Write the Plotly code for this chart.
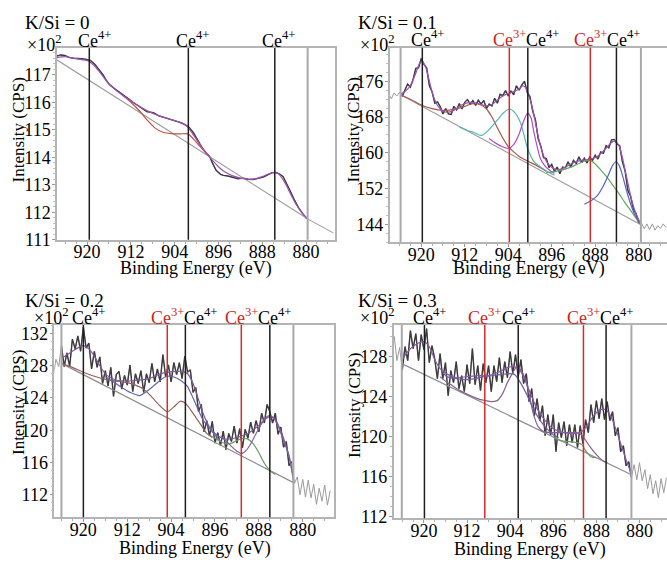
import plotly.graph_objects as go

W, H = 667, 565
FONT = "Liberation Serif"

# ---------------- data ----------------
# shared binding-energy grid (eV) of the noisy spectra (panels 2-4)
energy_grid = [926.0, 925.5, 925.0, 924.5, 924.0, 923.5, 923.0, 922.5, 922.0, 921.5,
               921.0, 920.5, 920.0, 919.5, 919.0, 918.5, 918.0, 917.5, 917.0, 916.5,
               916.0, 915.5, 915.0, 914.5, 914.0, 913.5, 913.0, 912.5, 912.0, 911.5,
               911.0, 910.5, 910.0, 909.5, 909.0, 908.5, 908.0, 907.5, 907.0, 906.5,
               906.0, 905.5, 905.0, 904.5, 904.0, 903.5, 903.0, 902.5, 902.0, 901.5,
               901.0, 900.5, 900.0, 899.5, 899.0, 898.5, 898.0, 897.5, 897.0, 896.5,
               896.0, 895.5, 895.0, 894.5, 894.0, 893.5, 893.0, 892.5, 892.0, 891.5,
               891.0, 890.5, 890.0, 889.5, 889.0, 888.5, 888.0, 887.5, 887.0, 886.5,
               886.0, 885.5, 885.0, 884.5, 884.0, 883.5, 883.0, 882.5, 882.0, 881.5,
               881.0, 880.5, 880.0, 879.5, 879.0, 878.5, 878.0, 877.5, 877.0, 876.5,
               876.0, 875.5, 875.0]

# ----- panel 1 : K/Si = 0 -----
p1_energy = [925.6, 924.8, 924.1, 923.3, 922.5, 921.7, 920.9, 920.1, 919.4, 918.6,
             917.8, 917.1, 916.5, 915.9, 915.0, 914.0, 912.8, 911.6, 910.4, 909.1,
             907.9, 906.8, 906.1, 905.0, 904.3, 903.2, 902.4, 901.5, 900.6, 899.8,
             899.0, 898.2, 897.6, 897.0, 896.4, 895.6, 895.1, 894.3, 893.3, 892.4,
             891.5, 890.6, 889.6, 888.8, 887.8, 887.0, 886.2, 885.5, 884.9, 884.2,
             883.5, 882.9, 882.2, 881.4, 880.6, 879.9, 879.0, 878.0, 877.0, 876.0, 875.0]
p1_counts = [117.68, 117.72, 117.70, 117.63, 117.60, 117.60, 117.58, 117.56, 117.52, 117.38,
             117.18, 117.00, 116.80, 116.64, 116.50, 116.34, 116.18, 116.00, 115.84, 115.66,
             115.62, 115.50, 115.46, 115.40, 115.34, 115.28, 115.21, 115.12, 114.90, 114.60,
             114.35, 114.15, 114.02, 113.75, 113.52, 113.38, 113.34, 113.32, 113.27, 113.22,
             113.24, 113.20, 113.19, 113.22, 113.28, 113.36, 113.44, 113.45, 113.40, 113.30,
             113.05, 112.78, 112.48, 112.18, 111.95, 111.77, 111.68, 111.58, 111.45, 111.35, 111.25]
p1_env_e = [925.6, 924.0, 922.5, 921.0, 919.8, 918.8, 917.8, 916.8, 915.8, 914.5, 913.0, 911.5,
            910.0, 908.5, 907.0, 905.5, 904.0, 902.7, 901.7, 900.8, 899.8, 898.8, 897.8, 896.8,
            895.8, 894.8, 893.5, 892.0, 890.5, 889.2, 888.0, 887.0, 886.0, 885.2, 884.4, 883.6,
            882.8, 881.8, 880.7, 879.7]
p1_env_i = [117.62, 117.66, 117.60, 117.55, 117.50, 117.35, 117.12, 116.86, 116.62, 116.40, 116.18, 115.98,
            115.80, 115.64, 115.52, 115.42, 115.33, 115.25, 115.12, 114.88, 114.58, 114.30, 114.05, 113.82,
            113.62, 113.46, 113.33, 113.24, 113.20, 113.22, 113.30, 113.38, 113.44, 113.42, 113.25, 112.98,
            112.66, 112.28, 111.97, 111.77]
p1_red_e = [913.5, 912.0, 910.5, 909.0, 907.5, 906.0, 904.5, 903.0, 901.6, 900.5, 899.5, 898.5, 897.6]
p1_red_i = [116.25, 116.00, 115.70, 115.35, 115.05, 114.90, 114.86, 114.85, 114.85, 114.65, 114.42, 114.20, 114.02]
p1_base_e = [925.6, 879.7]
p1_base_i = [117.55, 111.76]
p1_ce4 = [919.6, 901.5, 885.7]
p1_ce3 = []
p1_bounds = [879.7]
p1_window = [926.0, 879.7]

# ----- panel 2 : K/Si = 0.1 -----
p2_counts = [173.2, 172.1, 173.4, 172.7, 173.5, 172.6, 174.2, 175.4, 174.7, 176.4,
             178.9, 179.0, 181.1, 179.8, 179.0, 175.0, 173.6, 171.1, 171.4, 170.3,
             168.7, 169.9, 168.7, 168.6, 170.4, 169.6, 171.0, 169.8, 171.3, 171.9,
             170.9, 171.7, 170.6, 171.8, 170.9, 171.7, 169.9, 170.9, 170.5, 172.2,
             171.1, 173.1, 172.8, 173.9, 172.7, 173.8, 173.0, 175.0, 174.0, 175.2,
             176.0, 173.5, 172.6, 169.3, 167.4, 163.2, 161.5, 158.9, 158.7, 156.7,
             157.4, 155.8, 156.8, 155.3, 156.8, 156.6, 158.0, 156.8, 158.3, 157.6,
             159.1, 157.8, 158.8, 157.7, 159.1, 158.3, 159.5, 158.6, 160.2, 159.9,
             161.6, 161.1, 162.9, 163.0, 162.0, 161.6, 158.0, 155.9, 151.6, 150.3,
             147.5, 146.4, 144.3, 144.3, 143.0, 144.1, 142.8, 144.1, 142.7, 143.7,
             143.1, 144.1, 143.3]
p2_env_e = [923.8, 923.0, 922.0, 921.0, 920.3, 919.8, 919.2, 918.5, 917.8, 917.0, 916.0, 915.0,
            914.0, 913.0, 912.0, 911.0, 910.0, 909.0, 908.0, 907.0, 906.0, 905.0, 904.0, 903.0,
            902.0, 901.3, 900.8, 900.2, 899.5, 898.8, 898.0, 897.3, 896.5, 895.5, 894.5, 893.5,
            892.5, 891.0, 889.5, 888.5, 887.5, 886.5, 885.5, 884.8, 884.3, 883.6, 883.0, 882.3,
            881.5, 880.7, 879.6]
p2_env_i = [173.1, 173.7, 175.0, 177.8, 180.0, 180.4, 179.2, 176.0, 172.8, 170.6, 169.3, 169.1,
            169.5, 170.4, 171.0, 171.3, 171.2, 170.8, 170.5, 170.8, 171.8, 172.7, 173.3, 173.7,
            174.3, 175.0, 174.6, 172.8, 169.8, 165.5, 161.2, 158.8, 157.3, 156.4, 156.3, 156.8,
            157.5, 158.2, 158.5, 158.7, 159.3, 160.4, 161.7, 162.5, 162.6, 161.5, 158.9, 155.0,
            150.5, 147.0, 144.0]
p2_brown_e = [923.8, 922.0, 920.0, 918.0, 916.0, 914.0, 912.0, 910.5, 909.0, 908.0, 907.0,
              906.0, 905.0, 904.0, 903.0, 902.0, 901.0, 900.0, 899.0, 898.0, 897.0]
p2_brown_i = [173.0, 172.0, 170.7, 169.9, 169.5, 169.7, 170.4, 171.0, 170.7, 169.8, 168.0,
              165.6, 163.3, 161.4, 160.2, 159.2, 158.5, 157.9, 157.3, 156.6, 155.9]
p2_cyan_e = [913.0, 911.5, 910.4, 908.9, 907.5, 906.1, 904.9, 903.8, 902.8, 901.8, 901.1,
             900.5, 899.3, 898.0, 896.9, 895.5]
p2_cyan_i = [165.8, 165.0, 164.6, 163.9, 165.2, 167.2, 168.9, 169.8, 169.0, 166.9, 164.0,
             161.2, 158.1, 156.8, 155.9, 155.0]
p2_mag_e = [907.5, 906.7, 905.3, 903.9, 902.9, 902.0, 901.2, 900.4, 899.8, 899.3, 898.7,
            898.1, 897.4, 896.5, 895.5]
p2_mag_i = [163.2, 162.5, 161.5, 161.0, 162.0, 164.2, 167.0, 168.9, 167.8, 164.7, 161.5,
            158.8, 157.3, 156.2, 155.4]
p2_green_e = [897.0, 895.5, 894.0, 892.5, 891.0, 889.8, 888.9, 888.0, 887.0, 885.8, 884.5,
              883.6, 882.5, 881.3, 880.3, 879.6]
p2_green_i = [155.6, 155.8, 156.2, 156.8, 157.6, 158.2, 158.3, 157.5, 156.2, 154.5, 152.3,
              150.8, 148.8, 146.8, 145.0, 143.9]
p2_blue_e = [890.0, 889.0, 888.3, 887.5, 886.6, 885.6, 884.8, 884.2, 883.6, 883.0, 882.3,
             881.5, 880.7, 879.6]
p2_blue_i = [148.5, 149.1, 149.7, 150.6, 152.4, 155.0, 157.2, 158.0, 157.2, 155.0, 151.8,
             148.6, 146.1, 144.0]
p2_base_e = [923.8, 879.6]
p2_base_i = [173.0, 143.9]
p2_ce4 = [919.8, 900.4, 884.1]
p2_ce3 = [903.8, 888.9]
p2_bounds = [923.8, 879.6]
p2_window = [923.8, 879.6]

# ----- panel 3 : K/Si = 0.2 -----
p3_counts = [129.0, 126.7, 128.8, 127.9, 130.5, 127.9, 129.6, 127.9, 131.3, 130.1,
             131.7, 129.8, 132.8, 130.2, 130.8, 127.6, 129.8, 127.8, 129.1, 125.8,
             127.4, 125.5, 127.8, 124.2, 126.9, 127.3, 125.1, 126.8, 125.6, 128.1,
             124.8, 127.0, 125.8, 127.4, 124.7, 127.0, 125.9, 128.3, 126.0, 127.6,
             126.0, 129.4, 126.6, 128.1, 126.0, 128.4, 126.9, 128.4, 126.4, 129.2,
             127.2, 127.5, 124.7, 125.3, 122.3, 123.2, 119.8, 121.2, 119.3, 121.1,
             118.4, 119.7, 118.1, 119.9, 117.6, 119.6, 118.6, 120.5, 118.4, 120.2,
             117.8, 120.1, 119.0, 121.0, 119.6, 121.2, 119.8, 122.1, 120.9, 123.2,
             122.3, 120.9, 122.1, 119.5, 120.4, 117.9, 118.6, 115.6, 116.1, 113.4,
             114.2, 112.0, 113.9, 111.7, 113.8, 111.6, 113.3, 110.8, 112.8, 111.2,
             113.2, 110.7, 112.5]
p3_env_e = [924.0, 922.0, 920.5, 920.0, 919.0, 918.0, 917.0, 916.0, 915.0, 914.0, 912.0, 910.0,
            908.0, 906.0, 904.5, 903.0, 902.0, 901.0, 900.0, 899.0, 898.0, 897.0, 896.0, 895.0,
            894.0, 892.0, 890.0, 888.0, 887.0, 886.0, 885.0, 884.0, 883.0, 882.5, 882.0, 881.7]
p3_env_i = [128.9, 129.8, 130.4, 130.5, 130.1, 129.2, 128.0, 127.0, 126.5, 126.2, 126.1, 126.2,
            126.4, 127.0, 127.2, 127.3, 127.3, 127.0, 125.8, 123.8, 121.8, 120.4, 119.6, 119.1,
            118.9, 119.1, 119.6, 120.6, 121.3, 121.7, 121.3, 119.9, 118.0, 116.8, 115.0, 113.6]
p3_brown_e = [924.0, 922.0, 920.0, 918.0, 916.0, 914.0, 912.0, 910.5, 909.0, 907.5, 906.0,
              904.7, 903.5, 902.3, 901.5, 900.5, 899.5, 898.5, 897.5, 896.5]
p3_brown_i = [128.3, 127.8, 127.2, 126.7, 126.3, 126.1, 125.9, 125.6, 125.1, 124.1, 123.0,
              122.3, 122.9, 123.6, 123.4, 122.6, 121.6, 120.6, 119.6, 119.1]
p3_blue_e = [916.0, 914.5, 913.0, 911.5, 909.7, 908.5, 907.2, 905.8, 904.8, 903.5, 902.3,
             901.1, 900.2, 899.3, 898.1, 897.0, 896.0, 895.0]
p3_blue_i = [126.6, 126.0, 125.3, 124.7, 124.3, 124.8, 125.5, 126.3, 126.7, 126.6, 126.2,
             125.5, 124.3, 122.9, 121.2, 120.2, 119.4, 118.6]
p3_green_e = [897.0, 895.5, 894.0, 893.0, 891.8, 890.8, 890.0, 889.0, 888.0, 887.0, 886.0, 885.0]
p3_green_i = [119.4, 118.8, 118.3, 118.4, 118.8, 119.0, 118.9, 118.3, 117.2, 115.9, 115.0, 114.5]
p3_purple_e = [895.0, 894.0, 893.0, 892.0, 891.2, 890.3, 889.5, 888.5, 887.5, 886.7, 886.0,
               885.3, 884.5, 883.5, 882.5, 881.7]
p3_purple_i = [119.2, 118.7, 118.0, 117.4, 117.1, 117.5, 118.3, 119.6, 120.8, 121.6, 121.8,
               121.5, 120.5, 118.7, 116.8, 114.0]
p3_base_e = [924.0, 881.7]
p3_base_i = [128.3, 113.5]
p3_ce4 = [920.0, 901.4, 886.0]
p3_ce3 = [904.7, 891.2]
p3_bounds = [924.0, 881.7]
p3_window = [924.0, 881.7]

# ----- panel 4 : K/Si = 0.3 -----
p4_counts = [127.7, 130.0, 127.6, 128.9, 126.7, 129.0, 127.6, 130.6, 128.8, 130.3,
             127.6, 130.2, 128.7, 130.8, 127.4, 129.1, 127.8, 125.8, 128.3, 125.8,
             127.4, 124.1, 126.6, 125.4, 127.5, 124.8, 126.1, 124.5, 127.2, 125.3,
             128.8, 125.2, 127.1, 124.6, 127.3, 125.4, 127.1, 124.5, 127.1, 125.5,
             127.9, 125.4, 127.5, 125.9, 128.5, 126.3, 128.2, 126.0, 127.7, 125.3,
             126.3, 123.5, 124.8, 122.1, 123.8, 121.6, 123.1, 120.1, 122.2, 120.1,
             122.2, 118.5, 121.4, 119.9, 121.5, 119.1, 121.2, 119.4, 121.2, 118.9,
             121.1, 119.3, 121.7, 120.4, 123.2, 121.4, 123.6, 121.8, 123.8, 121.7,
             123.5, 121.6, 122.5, 120.1, 120.9, 118.5, 119.1, 117.1, 117.5, 115.9,
             117.2, 115.7, 117.4, 115.6, 116.7, 114.8, 116.2, 114.3, 115.6, 113.9,
             115.8, 114.4, 115.9]
p4_env_e = [924.1, 923.0, 921.5, 920.0, 919.0, 918.0, 917.0, 915.5, 914.0, 912.0, 910.0, 908.0,
            906.0, 904.5, 903.2, 902.3, 901.3, 900.3, 899.0, 897.5, 896.0, 894.0, 892.0, 890.5,
            889.5, 888.5, 887.3, 886.3, 885.3, 884.3, 883.3, 882.3, 881.5]
p4_env_i = [127.6, 128.5, 129.2, 129.5, 129.0, 127.7, 126.8, 126.2, 125.9, 126.0, 126.1, 126.1,
            126.5, 126.9, 127.0, 126.7, 125.8, 124.4, 122.8, 121.6, 120.8, 120.4, 120.3, 120.6,
            121.3, 122.1, 122.7, 122.7, 122.0, 120.6, 119.0, 117.4, 116.3]
p4_a_e = [917.0, 916.4, 915.0, 913.3, 911.0, 909.5, 908.6, 907.5, 906.4, 905.5, 904.5, 903.5,
          902.7, 901.6, 900.7, 899.7, 898.8, 897.8, 896.0, 894.0, 892.0, 891.0, 890.2, 889.2,
          888.0, 886.8, 886.0]
p4_a_i = [126.0, 125.7, 125.2, 124.6, 124.0, 123.7, 123.6, 123.5, 123.6, 124.2, 125.4, 126.4,
          127.0, 126.3, 124.8, 122.3, 121.0, 120.5, 120.4, 120.4, 120.4, 120.3, 119.8, 119.0,
          118.2, 117.6, 117.4]
p4_b_e = [916.5, 915.7, 914.0, 912.0, 910.5, 908.9, 907.3, 905.8, 904.3, 903.2, 902.1, 901.0,
          899.7, 898.4, 897.2, 896.0, 895.0]
p4_b_i = [126.4, 126.0, 125.8, 125.7, 125.8, 126.0, 126.1, 126.2, 126.3, 126.2, 125.4, 124.3,
          122.8, 121.6, 120.8, 120.2, 119.9]
p4_green_e = [896.0, 894.6, 893.0, 891.5, 890.7, 890.0, 889.0, 888.0]
p4_green_i = [120.0, 119.6, 119.5, 119.4, 119.2, 118.6, 118.0, 117.9]
p4_base_e = [924.1, 881.5]
p4_base_i = [127.3, 116.2]
p4_ce4 = [919.9, 902.5, 886.2]
p4_ce3 = [908.7, 890.4]
p4_bounds = [924.1, 881.5]
p4_window = [924.1, 881.5]

panel_titles = ["K/Si = 0", "K/Si = 0.1", "K/Si = 0.2", "K/Si = 0.3"]
x_title = "Binding Energy (eV)"
y_title = "Intensity (CPS)"
scale_label = "×10<sup>2</sup>"

# ---------------- layout helpers ----------------
def dx(a, b):
    return [a / W, b / W]

def dy(top, bottom):
    return [1 - bottom / H, 1 - top / H]

panels = [
    dict(xd=dx(57, 335), yd=dy(48, 243.5), xr=[925.5, 874.7], yr=[111.0, 117.97], ydt=1, y0=111,
         ymirror=True),
    dict(xd=dx(389.7, 667), yd=dy(47.7, 246), xr=[925.8, 874.8], yr=[140.0, 183.5], ydt=8, y0=144,
         ymirror=False),
    dict(xd=dx(54.3, 334), yd=dy(330.5, 526.5), xr=[925.3, 874.3], yr=[109.2, 133.05], ydt=4, y0=112,
         ymirror=True),
    dict(xd=dx(393.7, 667), yd=dy(330.5, 527.5), xr=[925.6, 874.9], yr=[111.85, 131.15], ydt=4, y0=112,
         ymirror=False),
]

fig = go.Figure()

DATA_DARK = "#3c3c3c"
DATA_LIGHT = "#9a9a9a"
BASE_COL = "#9c9c9c"
ENV_COL = "#9b52b5"


def ax_names(i):
    s = "" if i == 0 else str(i + 1)
    return "x" + s, "y" + s


def add_line(i, xs, ys, color, width=1.2, shape="spline"):
    xa, ya = ax_names(i)
    line = dict(color=color, width=width, shape=shape)
    if shape == "spline":
        line["smoothing"] = 0.8
    fig.add_trace(go.Scatter(x=xs, y=ys, mode="lines", xaxis=xa, yaxis=ya, line=line,
                             hoverinfo="skip", showlegend=False))


def add_data(i, e, c, window):
    hi, lo = window
    add_line(i, e, c, DATA_LIGHT, 1.0, "linear")
    ins_e = [x for x in e if lo <= x <= hi]
    ins_c = [y for x, y in zip(e, c) if lo <= x <= hi]
    add_line(i, ins_e, ins_c, DATA_DARK, 1.4, "linear")


# panel 1
add_data(0, p1_energy, p1_counts, p1_window)
add_line(0, p1_base_e, p1_base_i, BASE_COL, 1.2, "linear")
add_line(0, p1_red_e, p1_red_i, "#c0504a")
add_line(0, p1_env_e, p1_env_i, ENV_COL)

# panel 2
add_data(1, energy_grid, p2_counts, p2_window)
add_line(1, p2_base_e, p2_base_i, BASE_COL, 1.2, "linear")
add_line(1, p2_brown_e, p2_brown_i, "#a8574c")
add_line(1, p2_cyan_e, p2_cyan_i, "#56b3b3")
add_line(1, p2_mag_e, p2_mag_i, "#b04cc4")
add_line(1, p2_green_e, p2_green_i, "#5ea85e")
add_line(1, p2_blue_e, p2_blue_i, "#5561c4")
add_line(1, p2_env_e, p2_env_i, ENV_COL)

# panel 3
add_data(2, energy_grid, p3_counts, p3_window)
add_line(2, p3_base_e, p3_base_i, "#8f8a8a", 1.2, "linear")
add_line(2, p3_brown_e, p3_brown_i, "#93625e")
add_line(2, p3_blue_e, p3_blue_i, "#6266a8")
add_line(2, p3_green_e, p3_green_i, "#6c9a6c")
add_line(2, p3_purple_e, p3_purple_i, "#8a5ea0")
add_line(2, p3_env_e, p3_env_i, "#7e5a9c")

# panel 4
add_data(3, energy_grid, p4_counts, p4_window)
add_line(3, p4_base_e, p4_base_i, "#8c8c9a", 1.2, "linear")
add_line(3, p4_a_e, p4_a_i, "#86608e")
add_line(3, p4_b_e, p4_b_i, "#7060a0")
add_line(3, p4_green_e, p4_green_i, "#6c9a6c")
add_line(3, p4_env_e, p4_env_i, "#8a5aa8")

# axes
layout = dict(width=W, height=H, margin=dict(l=0, r=0, t=0, b=0, pad=0),
              paper_bgcolor="white", plot_bgcolor="white", showlegend=False,
              font=dict(family=FONT, size=18, color="black"))
for i, p in enumerate(panels):
    s = "" if i == 0 else str(i + 1)
    xa, ya = ax_names(i)
    layout["xaxis" + s] = dict(domain=p["xd"], range=p["xr"], anchor=ya, tick0=880, dtick=8,
                               showgrid=False, zeroline=False, showline=True, mirror=True,
                               linecolor="#b4b4b4", linewidth=1.5, ticks="outside", ticklen=3,
                               tickcolor="#9a9a9a", tickfont=dict(family=FONT, size=18, color="black"),
                               ticklabelstandoff=-8,
                               minor=dict(dtick=2, ticks="outside", ticklen=2, tickcolor="#b0b0b0"))
    layout["yaxis" + s] = dict(domain=p["yd"], range=p["yr"], anchor=xa, tick0=p["y0"], dtick=p["ydt"],
                               showgrid=False, zeroline=False, showline=True, mirror=p["ymirror"],
                               linecolor="#b4b4b4", linewidth=1.5, ticks="outside", ticklen=3,
                               tickcolor="#9a9a9a", tickfont=dict(family=FONT, size=18, color="black"),
                               ticklabelstandoff=-2,
                               minor=dict(nticks=5, ticks="outside", ticklen=2, tickcolor="#c0c0c0"))
fig.update_layout(**layout)

# vertical marker lines
ce4_sets = [p1_ce4, p2_ce4, p3_ce4, p4_ce4]
ce3_sets = [p1_ce3, p2_ce3, p3_ce3, p4_ce3]
bound_sets = [p1_bounds, p2_bounds, p3_bounds, p4_bounds]
for i in range(4):
    xa, ya = ax_names(i)
    for e in bound_sets[i]:
        fig.add_shape(type="line", xref=xa, yref=ya + " domain", x0=e, x1=e, y0=0, y1=1,
                      line=dict(color="#a8a8a8", width=2))
    for e in ce4_sets[i]:
        fig.add_shape(type="line", xref=xa, yref=ya + " domain", x0=e, x1=e, y0=0, y1=1,
                      line=dict(color="#1e1e1e", width=1.5))
    for e in ce3_sets[i]:
        fig.add_shape(type="line", xref=xa, yref=ya + " domain", x0=e, x1=e, y0=0, y1=1,
                      line=dict(color="#d42c2c", width=1.5))

CE4 = "Ce<sup>4+</sup>"
CE3 = "Ce<sup>3+</sup>"
LBL_SHIFT = 9
LBL_SIZE = 18
for i in range(4):
    xa, ya = ax_names(i)
    ce4 = ce4_sets[i]
    ce3 = ce3_sets[i]
    fig.add_annotation(x=ce4[0], y=1, xref=xa, yref=ya + " domain", text=CE4, showarrow=False,
                       xanchor="center", yanchor="middle", xshift=5, yshift=LBL_SHIFT,
                       font=dict(family=FONT, size=LBL_SIZE, color="black"))
    if ce3:
        for e3 in ce3:
            fig.add_annotation(x=e3, y=1, xref=xa, yref=ya + " domain", text=CE3, showarrow=False,
                               xanchor="center", yanchor="middle", yshift=LBL_SHIFT,
                               font=dict(family=FONT, size=LBL_SIZE, color="#cc1f1f"))
            fig.add_annotation(x=e3, y=1, xref=xa, yref=ya + " domain", text=CE4, showarrow=False,
                               xanchor="left", yanchor="middle", xshift=15, yshift=LBL_SHIFT,
                               font=dict(family=FONT, size=LBL_SIZE, color="black"))
    else:
        for e4 in ce4[1:]:
            fig.add_annotation(x=e4, y=1, xref=xa, yref=ya + " domain", text=CE4, showarrow=False,
                               xanchor="center", yanchor="middle", xshift=4, yshift=LBL_SHIFT,
                               font=dict(family=FONT, size=LBL_SIZE, color="black"))


def paper_text(px, py, text, size, xanchor="left", angle=0):
    fig.add_annotation(x=px / W, y=1 - py / H, xref="paper", yref="paper", text=text,
                       showarrow=False, xanchor=xanchor, yanchor="middle", textangle=angle,
                       font=dict(family=FONT, size=size, color="black"))


title_pos = [(23, 22), (356, 22), (23, 305), (356, 305)]
scale_pos = [(25, 43), (358, 43), (32, 321.7), (358, 321.7)]
xt_pos = [(196, 273), (529, 273), (195, 558), (530, 559)]
yt_pos = [(18, 132), (353, 132), (18, 410), (355, 413)]
for i in range(4):
    paper_text(*title_pos[i], panel_titles[i], 19)
    paper_text(*scale_pos[i], scale_label, 18)
    paper_text(*xt_pos[i], x_title, 18, xanchor="center")
    paper_text(*yt_pos[i], y_title, 17, xanchor="center", angle=-90)

fig.write_html("out.html", config={"displayModeBar": False},
               post_script="document.body.style.margin='0px';document.body.style.padding='0px';")
